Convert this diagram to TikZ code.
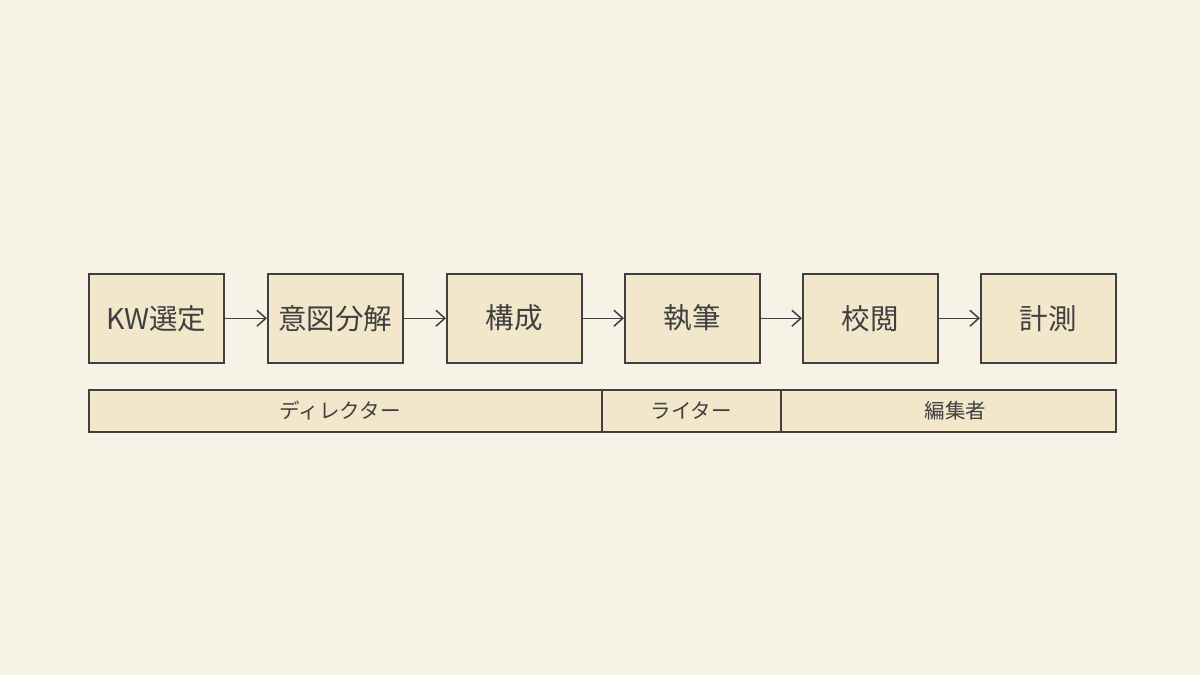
\documentclass[tikz,border=0pt]{standalone}
\usepackage{fontspec}
\setmainfont{Noto Sans CJK JP}
\usetikzlibrary{arrows.meta}
\definecolor{bg}{HTML}{F6F2E6}
\definecolor{boxfill}{HTML}{F2E6CB}
\definecolor{ink}{HTML}{404040}
\tikzset{
  stepbox/.style={draw=ink, line width=1.5pt, fill=boxfill, minimum width=135pt, minimum height=89pt, inner sep=0pt, anchor=north west, font=\fontsize{28.5}{32}\selectfont, text=ink},
  rolebar/.style={draw=ink, line width=1.5pt, fill=boxfill, minimum height=42pt, inner sep=0pt, anchor=north west, font=\fontsize{20.5}{24}\selectfont, text=ink},
  flow/.style={draw=ink, line width=1.5pt, -{Straight Barb[length=9pt,width=16pt,line width=1.5pt]}}
}
\begin{document}
\begin{tikzpicture}[x=1pt,y=-1pt]
\fill[bg] (0,0) rectangle (1200,675);
\useasboundingbox (0,0) rectangle (1200,675);
\node[stepbox] (s1) at (88,273) {KW選定};
\node[stepbox] (s2) at (267,273) {意図分解};
\node[stepbox] (s3) at (446,273) {構成};
\node[stepbox] (s4) at (624,273) {執筆};
\node[stepbox] (s5) at (802,273) {校閲};
\node[stepbox] (s6) at (980,273) {計測};
\draw[flow] (s1) -- (s2);
\draw[flow] (s2) -- (s3);
\draw[flow] (s3) -- (s4);
\draw[flow] (s4) -- (s5);
\draw[flow] (s5) -- (s6);
\node[rolebar, minimum width=513pt] (r1) at (88,389) {\hspace*{-10pt}ディレクター};
\node[rolebar, minimum width=179pt] (r2) at (601,389) {ライター};
\node[rolebar, minimum width=335pt] (r3) at (780,389) {\hspace*{14pt}編集者};
\end{tikzpicture}
\end{document}
